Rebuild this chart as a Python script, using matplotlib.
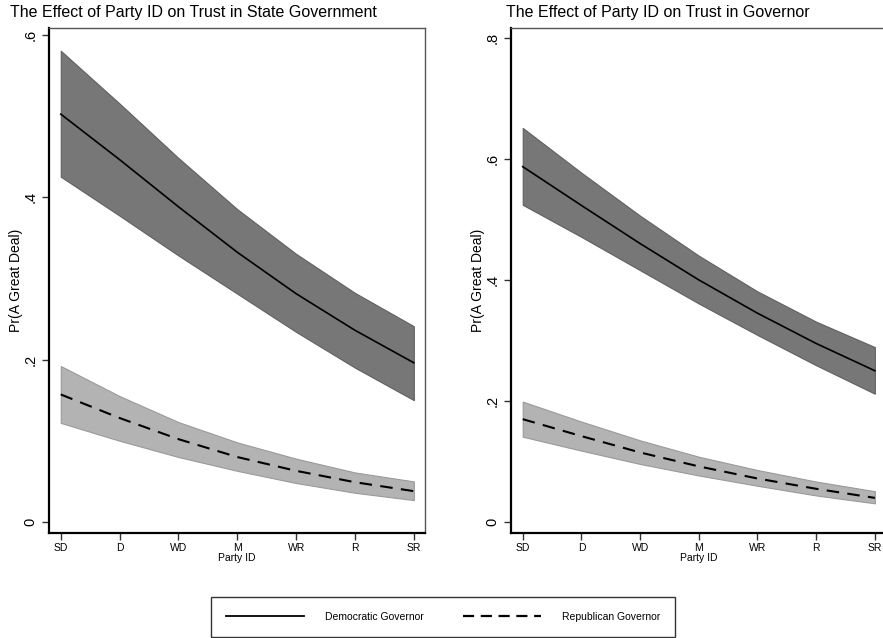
import numpy as np
import matplotlib.pyplot as plt
from matplotlib.lines import Line2D

plt.rcParams['font.family'] = ['Liberation Sans', 'DejaVu Sans']

party = ['SD', 'D', 'WD', 'M', 'WR', 'R', 'SR']
xpos = np.arange(1, 8)

# trust in state government
state_dem = [0.502, 0.446, 0.388, 0.332, 0.281, 0.236, 0.196]
state_dem_hi = [0.580, 0.515, 0.448, 0.385, 0.330, 0.282, 0.241]
state_dem_lo = [0.425, 0.377, 0.328, 0.281, 0.234, 0.190, 0.150]
state_rep = [0.157, 0.128, 0.102, 0.080, 0.063, 0.049, 0.038]
state_rep_hi = [0.192, 0.155, 0.123, 0.098, 0.078, 0.061, 0.050]
state_rep_lo = [0.122, 0.100, 0.080, 0.063, 0.048, 0.036, 0.027]

# trust in governor
gov_dem = [0.587, 0.523, 0.460, 0.400, 0.345, 0.295, 0.250]
gov_dem_hi = [0.651, 0.577, 0.506, 0.440, 0.381, 0.331, 0.289]
gov_dem_lo = [0.524, 0.471, 0.416, 0.361, 0.309, 0.259, 0.212]
gov_rep = [0.170, 0.142, 0.115, 0.092, 0.072, 0.055, 0.040]
gov_rep_hi = [0.199, 0.166, 0.135, 0.108, 0.086, 0.067, 0.051]
gov_rep_lo = [0.141, 0.118, 0.096, 0.077, 0.060, 0.044, 0.031]

W, H = 883, 638
fig = plt.figure(figsize=(W / 100, H / 100), dpi=100)

def panel(rect, dem, dem_hi, dem_lo, rep, rep_hi, rep_lo, ylim, yticks, ylabels):
    ax = fig.add_axes(rect)
    ax.fill_between(xpos, dem_lo, dem_hi, facecolor='#777777', edgecolor='#606060', lw=0.8, zorder=1)
    ax.fill_between(xpos, rep_lo, rep_hi, facecolor='#b3b3b3', edgecolor='#9a9a9a', lw=0.8, zorder=1)
    ax.plot(xpos, dem, color='black', lw=1.2, zorder=3)
    ax.plot(xpos, rep, color='black', lw=1.5, dashes=(6, 4), zorder=3)
    ax.set_xlim(0.80, 7.19)
    ax.set_ylim(*ylim)
    ax.set_xticks(xpos)
    ax.set_xticklabels(party, fontsize=7.5)
    ax.set_yticks(yticks)
    ax.set_yticklabels(ylabels, fontsize=10.5, rotation=90, va='center')
    ax.tick_params(axis='both', direction='out', length=5, width=1, color='#333333')
    ax.tick_params(axis='x', pad=2)
    ax.set_xlabel('Party ID', fontsize=7.5, labelpad=0)
    ax.set_ylabel('Pr(A Great Deal)', fontsize=10, labelpad=0)
    for s in ['left', 'bottom']:
        ax.spines[s].set_color('black')
        ax.spines[s].set_linewidth(1.6)
    for s in ['top', 'right']:
        ax.spines[s].set_color('#555555')
        ax.spines[s].set_linewidth(1.0)
    return ax

bot = (H - 533) / H
hgt = (533 - 28) / H
axl = panel([49 / W, bot, (425 - 49) / W, hgt],
            state_dem, state_dem_hi, state_dem_lo, state_rep, state_rep_hi, state_rep_lo,
            (-0.0135, 0.608), [0, 0.2, 0.4, 0.6], ['0', '.2', '.4', '.6'])
axr = panel([511 / W, bot, (886 - 511) / W, hgt],
            gov_dem, gov_dem_hi, gov_dem_lo, gov_rep, gov_rep_hi, gov_rep_lo,
            (-0.018, 0.816), [0, 0.2, 0.4, 0.6, 0.8], ['0', '.2', '.4', '.6', '.8'])

fig.text(10 / W, 1 - 13 / H, 'The Effect of Party ID on Trust in State Government',
         fontsize=11.5, ha='left', va='center')
fig.text(506 / W, 1 - 13 / H, 'The Effect of Party ID on Trust in Governor',
         fontsize=11.5, ha='left', va='center')

handles = [Line2D([], [], color='black', lw=1.3),
           Line2D([], [], color='black', lw=1.6, dashes=(5, 3))]
leg = fig.legend(handles, ['Democratic Governor', 'Republican Governor'],
                 loc='center', bbox_to_anchor=(443 / W, 1 - 617 / H), ncol=2,
                 fontsize=7.5, frameon=True, fancybox=False, handlelength=7.5,
                 handletextpad=2.0, columnspacing=3.8, borderpad=1.4)
leg.get_frame().set_edgecolor('black')
leg.get_frame().set_linewidth(1.0)

fig.savefig('out.png', dpi=100, facecolor='white')
